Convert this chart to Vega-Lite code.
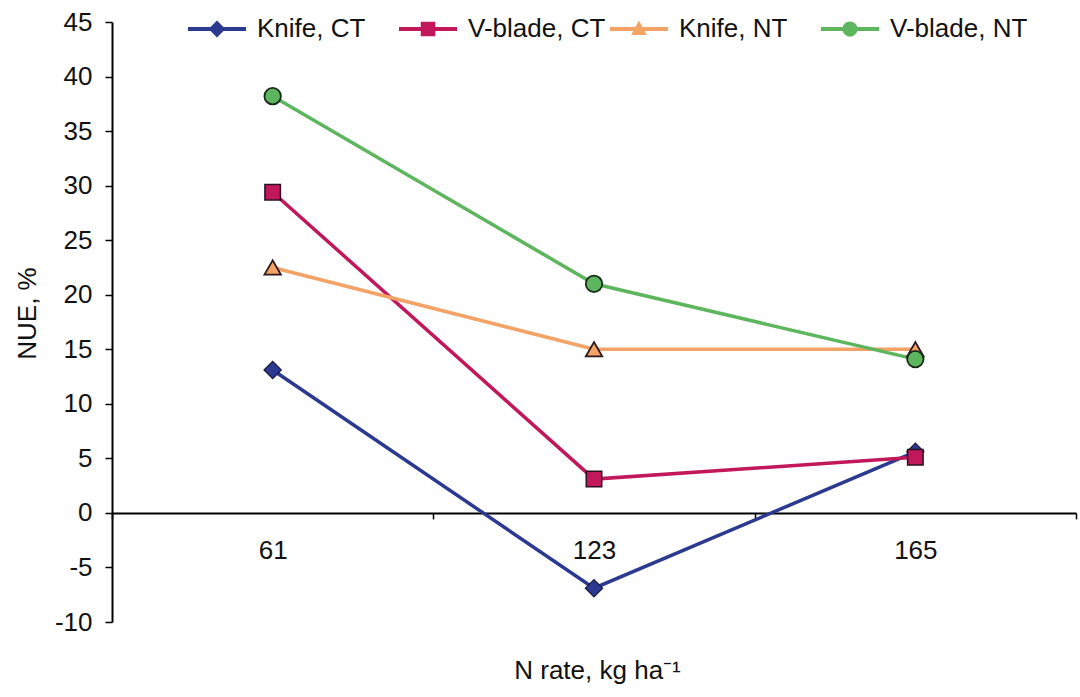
{
  "$schema": "https://vega.github.io/schema/vega-lite/v6.json",
  "width": 964,
  "height": 600,
  "autosize": {"type": "none"},
  "padding": {"left": 112, "top": 22, "right": 4, "bottom": 75},
  "background": "white",
  "config": {"view": {"stroke": null}, "font": "Liberation Sans"},
  "data": {
    "values": [
      {"series": "Knife, CT", "rate": 61, "nue": 13.1},
      {"series": "Knife, CT", "rate": 123, "nue": -6.9},
      {"series": "Knife, CT", "rate": 165, "nue": 5.6},
      {"series": "V-blade, CT", "rate": 61, "nue": 29.4},
      {"series": "V-blade, CT", "rate": 123, "nue": 3.1},
      {"series": "V-blade, CT", "rate": 165, "nue": 5.1},
      {"series": "Knife, NT", "rate": 61, "nue": 22.5},
      {"series": "Knife, NT", "rate": 123, "nue": 15.0},
      {"series": "Knife, NT", "rate": 165, "nue": 15.0},
      {"series": "V-blade, NT", "rate": 61, "nue": 38.2},
      {"series": "V-blade, NT", "rate": 123, "nue": 21.0},
      {"series": "V-blade, NT", "rate": 165, "nue": 14.1}
    ]
  },
  "encoding": {
    "x": {
      "field": "rate",
      "type": "ordinal",
      "scale": {"type": "band", "paddingInner": 0, "paddingOuter": 0},
      "axis": {
        "title": "N rate, kg ha⁻¹",
        "orient": "bottom",
        "offset": -109.09,
        "grid": false,
        "domainColor": "#000",
        "domainWidth": 2,
        "tickBand": "extent",
        "tickColor": "#000",
        "tickWidth": 1.5,
        "tickSize": 6,
        "labelAngle": 0,
        "labelFontSize": 26,
        "labelColor": "#111",
        "labelPadding": 19,
        "titleFontSize": 26,
        "titleFontWeight": "normal",
        "titleColor": "#111",
        "titleX": 485,
        "titleY": 158,
        "titleAlign": "center",
        "titleBaseline": "middle"
      }
    },
    "y": {
      "field": "nue",
      "type": "quantitative",
      "scale": {"domain": [-10, 45], "nice": false, "zero": false},
      "axis": {
        "title": "NUE, %",
        "values": [-10, -5, 0, 5, 10, 15, 20, 25, 30, 35, 40, 45],
        "labelExpr": "replace(datum.label, '−', '-')",
        "grid": false,
        "domainColor": "#000",
        "domainWidth": 2,
        "tickColor": "#000",
        "tickWidth": 1.5,
        "tickSize": 7,
        "labelFontSize": 26,
        "labelColor": "#111",
        "labelPadding": 13,
        "titleFontSize": 26,
        "titleFontWeight": "normal",
        "titleColor": "#111",
        "titleAngle": -90,
        "titleX": -85,
        "titleY": 291,
        "titleAlign": "center",
        "titleBaseline": "middle"
      }
    }
  },
  "layer": [
    {
      "mark": {"type": "point", "filled": true, "size": 3364, "opacity": 0},
      "encoding": {
        "color": {
          "field": "series",
          "type": "nominal",
          "scale": {
            "domain": ["Knife, CT", "V-blade, CT", "Knife, NT", "V-blade, NT"],
            "range": ["#2B3990", "#C2185B", "#F4A266", "#5DB65D"]
          },
          "legend": {
            "orient": "none",
            "legendX": 76,
            "legendY": -22,
            "direction": "horizontal",
            "title": null,
            "gridAlign": "all",
            "symbolSize": 3364,
            "symbolOpacity": 1,
            "symbolStrokeWidth": 0,
            "labelFontSize": 26,
            "labelColor": "#111",
            "labelOffset": 11,
            "labelLimit": 300,
            "columnPadding": 4,
            "padding": 0
          }
        },
        "shape": {
          "field": "series",
          "type": "nominal",
          "scale": {
            "domain": ["Knife, CT", "V-blade, CT", "Knife, NT", "V-blade, NT"],
            "range": [
              "M-1,-0.065H1V0.065H-1Z M-0.29,0L0,-0.29L0.29,0L0,0.29Z",
              "M-1,-0.065H1V0.065H-1Z M-0.25,-0.25H0.25V0.25H-0.25Z",
              "M-1,-0.065H1V0.065H-1Z M0,-0.29L0.27,0.21L-0.27,0.21Z",
              "M-1,-0.065H1V0.065H-1Z M0.26,0A0.26,0.26,0,1,1,-0.26,0A0.26,0.26,0,1,1,0.26,0Z"
            ]
          },
          "legend": {
            "orient": "none",
            "legendX": 76,
            "legendY": -22,
            "direction": "horizontal",
            "title": null,
            "gridAlign": "all",
            "symbolSize": 3364,
            "symbolOpacity": 1,
            "symbolStrokeWidth": 0,
            "labelFontSize": 26,
            "labelColor": "#111",
            "labelOffset": 11,
            "labelLimit": 300,
            "columnPadding": 4,
            "padding": 0
          }
        }
      }
    },
    {
      "mark": {"type": "line", "strokeWidth": 3.5},
      "encoding": {"color": {"field": "series", "type": "nominal"}}
    },
    {
      "transform": [{"filter": "datum.series === 'Knife, CT'"}],
      "mark": {"type": "point", "filled": true, "shape": "diamond", "size": 300, "stroke": "#1c1c40", "strokeWidth": 1.2, "opacity": 1},
      "encoding": {"color": {"field": "series", "type": "nominal"}}
    },
    {
      "transform": [{"filter": "datum.series === 'V-blade, CT'"}],
      "mark": {"type": "point", "filled": true, "shape": "square", "size": 240, "stroke": "#2a1020", "strokeWidth": 1.5, "opacity": 1},
      "encoding": {"color": {"field": "series", "type": "nominal"}}
    },
    {
      "transform": [{"filter": "datum.series === 'Knife, NT'"}],
      "mark": {"type": "point", "filled": true, "shape": "triangle-up", "size": 270, "stroke": "#2a1a20", "strokeWidth": 1.8, "opacity": 1},
      "encoding": {"color": {"field": "series", "type": "nominal"}}
    },
    {
      "transform": [{"filter": "datum.series === 'V-blade, NT'"}],
      "mark": {"type": "point", "filled": true, "shape": "circle", "size": 270, "stroke": "#1a2a1a", "strokeWidth": 1.8, "opacity": 1},
      "encoding": {"color": {"field": "series", "type": "nominal"}}
    }
  ]
}
